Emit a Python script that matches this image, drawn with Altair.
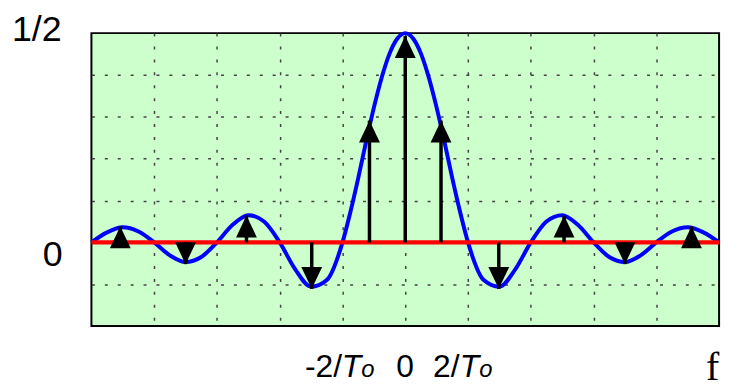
import altair as alt
import pandas as pd

# ---- data (f in grid units, amplitude) ----
curve_f = [-5, -4.75, -4.5, -4.25, -4, -3.75, -3.5, -3.25, -3, -2.75, -2.5, -2.25,
           -2, -1.75, -1.5, -1.25, -1, -0.875, -0.75, -0.625, -0.5, -0.375, -0.25,
           -0.125, 0, 0.125, 0.25, 0.375, 0.5, 0.625, 0.75, 0.875, 1, 1.25, 1.5,
           1.75, 2, 2.25, 2.5, 2.75, 3, 3.25, 3.5, 3.75, 4, 4.25, 4.5, 4.75, 5]
curve_v = [0.0, 0.024, 0.036, 0.026, 0.0, -0.031, -0.047, -0.035, 0.0, 0.042, 0.065,
           0.050, 0.0, -0.065, -0.106, -0.090, 0.0, 0.072, 0.153, 0.240, 0.322,
           0.394, 0.451, 0.487, 0.5, 0.487, 0.451, 0.394, 0.322, 0.240, 0.153,
           0.072, 0.0, -0.090, -0.106, -0.065, 0.0, 0.050, 0.065, 0.042, 0.0,
           -0.035, -0.047, -0.031, 0.0, 0.026, 0.036, 0.024, 0.0]

arrow_f = [-4.54, -3.5, -2.53, -1.49, -0.57, 0, 0.57, 1.49, 2.53, 3.5, 4.56]
arrow_v = [0.038, -0.052, 0.064, -0.111, 0.291, 0.493, 0.291, -0.111, 0.064, -0.052, 0.038]

x_grid = [-4, -3, -2, -1, 0, 1, 2, 3, 4]
y_grid = [-0.1, 0, 0.1, 0.2, 0.3, 0.4]

y_labels = ["1/2", "0"]
y_label_v = [0.5, 0]
y_label_dy = [8, 24]

# x labels split into pieces (regular / italic T / small italic o)
xl_reg_text = ["-2/", "0", "2/"]
xl_reg_f = [-1.598, -0.142, 0.443]
xl_T_text = ["T", "T"]
xl_T_f = [-1.013, 0.870]
xl_o_text = ["o", "o"]
xl_o_f = [-0.70, 1.18]
f_label_f = [4.79]

UP = "M0,0L1.05,2.2L-1.05,2.2Z"
DOWN = "M0,0L1.05,-2.2L-1.05,-2.2Z"

curve = pd.DataFrame({"f": curve_f, "v": curve_v})
arrows = pd.DataFrame({"f": arrow_f, "v": arrow_v, "zero": [0] * len(arrow_f),
                       "dir": ["up" if v > 0 else "down" for v in arrow_v]})

xs = alt.Scale(domain=[-5, 5], nice=False, zero=False)
ys = alt.Scale(domain=[-0.2, 0.5], nice=False, zero=False)

grid_axis_x = alt.Axis(values=x_grid, grid=True, labels=False, ticks=False, domain=False,
                       title="", gridDash=[3, 10], gridColor="#444", gridWidth=1.5)
grid_axis_y = alt.Axis(values=y_grid, grid=True, labels=False, ticks=False, domain=False,
                       title="", gridDash=[3, 10], gridColor="#444", gridWidth=1.5)

line = alt.Chart(curve).mark_line(color="#0000ff", strokeWidth=4, interpolate="monotone").encode(
    x=alt.X("f:Q", scale=xs, axis=grid_axis_x),
    y=alt.Y("v:Q", scale=ys, axis=grid_axis_y),
)

zero_line = alt.Chart(pd.DataFrame({"f": [-5], "f2": [5], "v": [0]})).mark_rule(
    color="#ff0000", strokeWidth=4.5).encode(
    x=alt.X("f:Q", scale=xs), x2="f2:Q", y=alt.Y("v:Q", scale=ys))

stems = alt.Chart(arrows).mark_rule(color="black", strokeWidth=3.5).encode(
    x=alt.X("f:Q", scale=xs), y=alt.Y("v:Q", scale=ys), y2="zero:Q")

heads = alt.Chart(arrows).mark_point(filled=True, size=400, opacity=1, color="black",
                                     strokeWidth=0).encode(
    x=alt.X("f:Q", scale=xs), y=alt.Y("v:Q", scale=ys),
    shape=alt.Shape("dir:N", scale=alt.Scale(domain=["up", "down"], range=[UP, DOWN]),
                    legend=None))

ylab1 = alt.Chart(pd.DataFrame({"t": [y_labels[0]], "v": [y_label_v[0]]})).mark_text(
    align="right", baseline="alphabetic", fontSize=36, font="Liberation Sans",
    color="black", dy=y_label_dy[0]).encode(x=alt.value(-30), y=alt.Y("v:Q", scale=ys), text="t:N")
ylab2 = alt.Chart(pd.DataFrame({"t": [y_labels[1]], "v": [y_label_v[1]]})).mark_text(
    align="right", baseline="alphabetic", fontSize=36, font="Liberation Sans",
    color="black", dy=y_label_dy[1]).encode(x=alt.value(-29), y=alt.Y("v:Q", scale=ys), text="t:N")

XL_Y = 346
xl_reg = alt.Chart(pd.DataFrame({"t": xl_reg_text, "f": xl_reg_f})).mark_text(
    align="left", baseline="alphabetic", fontSize=32, font="Liberation Sans", color="black").encode(
    x=alt.X("f:Q", scale=xs), y=alt.value(XL_Y), text="t:N")
xl_T = alt.Chart(pd.DataFrame({"t": xl_T_text, "f": xl_T_f})).mark_text(
    align="left", baseline="alphabetic", fontSize=32, font="Liberation Sans", fontStyle="italic",
    color="black").encode(x=alt.X("f:Q", scale=xs), y=alt.value(XL_Y), text="t:N")
xl_o = alt.Chart(pd.DataFrame({"t": xl_o_text, "f": xl_o_f})).mark_text(
    align="left", baseline="alphabetic", fontSize=24, font="Liberation Sans", fontStyle="italic",
    color="black").encode(x=alt.X("f:Q", scale=xs), y=alt.value(XL_Y), text="t:N")
f_lab = alt.Chart(pd.DataFrame({"t": ["f"], "f": f_label_f})).mark_text(
    align="left", baseline="alphabetic", fontSize=40, font="Liberation Serif", color="black").encode(
    x=alt.X("f:Q", scale=xs), y=alt.value(349), text="t:N")

chart = alt.layer(line, zero_line, stems, heads, ylab1, ylab2, xl_reg, xl_T, xl_o, f_lab).properties(
    width=632, height=295,
    autosize=alt.AutoSizeParams(type="none"),
    padding={"left": 84, "top": 24, "right": 12, "bottom": 56},
).configure_view(fill="#ccffcc", stroke="black", strokeWidth=2)

chart.save("out.html", embed_options={"renderer": "svg", "actions": False})
